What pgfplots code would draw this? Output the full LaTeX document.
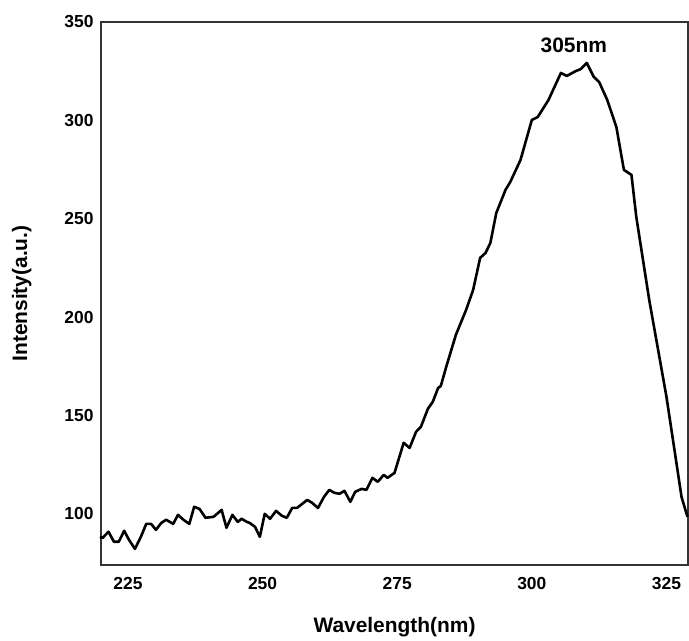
\documentclass[border=0pt]{standalone}
\usepackage{fontspec}
\setmainfont{Liberation Sans}
\usepackage{pgfplots}
\pgfplotsset{compat=1.18}

\pgfplotstableread{
x y
219.8 88.3
220.3 87.8
221.4 90.9
222.4 85.8
223.3 85.8
224.3 91.4
225.2 86.8
226.3 82.2
227.4 88.3
228.4 94.9
229.3 94.9
230.2 91.9
231.2 95.4
232.1 97.0
233.4 94.9
234.3 99.5
235.3 97.0
236.4 94.9
237.3 103.6
238.3 102.5
239.4 98.0
240.9 98.5
242.4 102.0
243.3 92.9
244.4 99.5
245.4 95.9
246.1 97.5
247.1 95.9
247.6 95.4
248.6 93.4
249.5 88.3
250.4 100.0
251.4 97.5
252.5 101.5
253.6 99.0
254.5 98.0
255.5 103.0
256.4 103.0
258.3 107.1
259.2 105.6
260.3 103.0
261.4 108.6
262.4 112.2
263.3 110.7
264.3 110.2
265.2 111.7
266.3 106.1
267.2 111.2
268.4 112.7
269.3 112.2
270.4 118.3
271.4 116.3
272.5 119.8
273.2 118.3
274.5 120.8
276.2 136.1
277.3 133.5
278.5 141.7
279.4 144.2
280.7 153.4
281.6 156.9
282.6 164.0
283.1 165.0
284.1 174.7
285.9 191.0
287.8 203.7
289.1 213.8
290.4 230.1
291.4 232.6
292.3 237.7
293.4 252.9
295.1 264.6
296.0 268.7
297.9 279.9
300.0 300.2
301.1 301.7
303.1 310.4
305.4 324.1
306.5 322.6
308.2 325.1
309.1 326.1
310.2 329.2
311.5 322.1
312.5 319.5
314.0 310.4
315.7 296.6
317.1 274.8
318.5 272.3
319.4 250.9
321.8 208.7
325.0 159.5
327.8 108.6
328.9 98.5
}\spectrum

\begin{document}
\begin{tikzpicture}
\begin{axis}[
    scale only axis,
    width=587bp,
    height=543bp,
    xmin=220, xmax=329,
    ymin=74, ymax=350,
    xtick={225,250,275,300,325},
    ytick={100,150,200,250,300,350},
    major tick length=0pt,
    axis line style={line width=1.3bp, black!80},
    tick label style={font=\fontsize{17.5}{20}\selectfont\bfseries},
    /pgf/number format/assume math mode=true,
    xticklabel style={yshift=-9bp},
    yticklabel style={xshift=-4bp},
    xlabel={Wavelength(nm)},
    ylabel={Intensity(a.u.)},
    label style={font=\fontsize{21}{24}\selectfont\bfseries},
    xlabel style={at={(axis description cs:0.5,-0.114)}, anchor=center},
    ylabel style={at={(axis description cs:-0.135,0.5)}, anchor=center},
    clip=false,
]
\addplot[black, line width=2.6bp, line join=round] table {\spectrum};
\node[font=\fontsize{21}{24}\selectfont\bfseries] at (axis cs:307.8,338.3) {305nm};
\end{axis}
\pgfresetboundingbox
\useasboundingbox ([shift={(-101bp,-76bp)}]current axis.south west) rectangle ([shift={(1bp,22bp)}]current axis.north east);
\end{tikzpicture}
\end{document}
